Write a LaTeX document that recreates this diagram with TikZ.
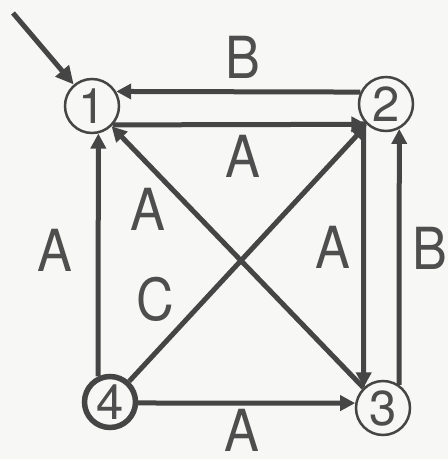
\documentclass[tikz,border=0pt]{standalone}
\usepackage{fontspec}
\setmainfont{TeX Gyre Heros}
\newfontfamily\lblfont[FakeStretch=0.9]{TeX Gyre Heros}
\usetikzlibrary{arrows.meta}
\definecolor{ink}{HTML}{454545}
\definecolor{txt}{HTML}{4E4E4E}
\definecolor{paper}{HTML}{F7F7F5}
\begin{document}
\begin{tikzpicture}[x=1pt,y=-1pt,
  state/.style={circle, draw=ink, line width=2.5pt, minimum size=54pt, inner sep=0pt,
    text=txt, font=\fontsize{49}{50}\selectfont, text height=35pt, text depth=0pt},
  finalstate/.style={state, line width=5.5pt, minimum size=51pt},
  lbl/.style={text=txt, font=\lblfont\fontsize{58}{60}\selectfont, inner sep=0pt,
    text height=41.5pt, text depth=0pt},
  edge/.style={draw=ink, line width=5pt, -{Triangle[length=15pt,width=15pt]}}]
\fill[paper] (0,0) rectangle (448,459);
\useasboundingbox (0,0) rectangle (448,459);
\node[state] (n1) at (92,106) {1};
\node[state] (n2) at (386,104) {2};
\node[state] (n3) at (383,408) {3};
\node[finalstate] (n4) at (110,402) {4};
\coordinate (init) at (13,13);
\draw[edge, -{Triangle[length=18pt,width=17pt]}] (init) -- (n1);
\draw[edge] (n2.155) -- (n1.31);
\draw[edge] (n1.-42) -- (n2.-134);
\draw[edge] (n4.115) -- (n1.-77);
\draw[edge] (n2.-142) -- (n3.133);
\draw[edge] (n3.55) -- (n2.-62);
\draw[edge] (n4.-2) -- (n3.170);
\draw[edge] (n3) -- (n1);
\draw[edge] (n4) -- (n2);
\node[lbl] (lB1) at (243,58) {B};
\node[lbl] (lA1) at (243,157) {A};
\node[lbl] (lA2) at (148,210) {A};
\node[lbl] (lA3) at (55,251) {A};
\node[lbl] (lC) at (155,300) {C};
\node[lbl] (lA4) at (333,248) {A};
\node[lbl] (lB2) at (430,249) {B};
\node[lbl] (lA5) at (242,431) {A};
\end{tikzpicture}
\end{document}
